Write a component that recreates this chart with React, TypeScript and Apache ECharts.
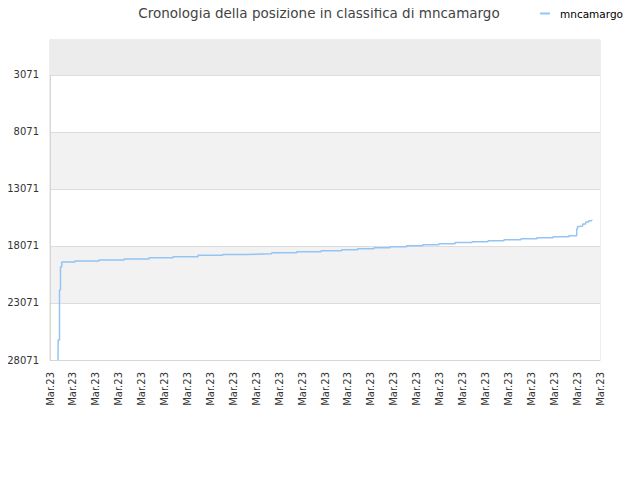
import React, { useEffect, useRef } from "react";
import * as echarts from "echarts";

const TITLE = "Cronologia della posizione in classifica di mncamargo";
const SERIES_NAME = "mncamargo";
const X_TICK_LABEL = "Mar.23";
const Y_TICKS = [3071, 8071, 13071, 18071, 23071, 28071];
const Y_MIN = 1;
const Y_MAX = 28071;
const X_MIN = 0;
const X_MAX = 24;

// time position (in axis-label units) where each rank level starts
const xPositions = [
  0.349, 0.358, 0.415, 0.458, 0.511, 1.091, 2.138, 3.229, 4.32, 5.367, 6.458,
  7.536, 8.583, 9.674, 10.765, 11.825, 12.729, 13.427, 14.138, 14.836, 15.565,
  16.263, 16.974, 17.673, 18.415, 19.113, 19.811, 20.553, 21.251, 21.949,
  22.647, 22.983, 23.018, 23.096, 23.245, 23.376, 23.507, 23.638,
];
// rank held from that position
const ranks = [
  28071, 26317, 21931, 19914, 19475, 19387, 19299, 19212, 19098, 19010, 18887,
  18808, 18747, 18659, 18571, 18484, 18396, 18308, 18220, 18133, 18045, 17957,
  17869, 17764, 17694, 17606, 17518, 17431, 17343, 17255, 17168, 16580, 16361,
  16317, 16141, 15966, 15852, 15765,
];

export default function App() {
  const ref = useRef<HTMLDivElement>(null);
  useEffect(() => {
    if (!ref.current) return;
    const chart = echarts.init(ref.current, undefined, { renderer: "svg" });
    const data = xPositions.map((x, i) => [x, ranks[i]]);
    chart.setOption({
      animation: false,
      textStyle: { fontFamily: "DejaVu Sans" },
      title: {
        text: TITLE,
        left: 314,
        textAlign: "center",
        top: 1,
        textStyle: { fontSize: 13.5, fontWeight: "normal", color: "#444", fontFamily: "DejaVu Sans" },
      },
      legend: {
        data: [SERIES_NAME],
        right: 12,
        top: 3,
        itemWidth: 10,
        itemHeight: 2,
        itemGap: 5,
        icon: "rect",
        textStyle: { fontSize: 10.5, color: "#000", fontFamily: "DejaVu Sans", padding: [0, 0, 0, 5] },
      },
      grid: {
        left: 50,
        right: 40,
        top: 40,
        bottom: 120,
        show: true,
        borderColor: "#dddddd",
        borderWidth: 1,
        backgroundColor: "transparent",
      },
      xAxis: {
        type: "value",
        min: X_MIN,
        max: X_MAX,
        interval: 1,
        axisLine: { show: true, lineStyle: { color: "#d6d6d6" } },
        axisTick: { show: false },
        splitLine: { show: false },
        axisLabel: {
          rotate: 90,
          fontSize: 10,
          color: "#333",
          margin: 12,
          formatter: () => X_TICK_LABEL,
          showMinLabel: true,
          showMaxLabel: true,
        },
      },
      yAxis: {
        type: "value",
        inverse: true,
        min: Y_MIN,
        max: Y_MAX,
        axisLine: { show: true, lineStyle: { color: "#d6d6d6" } },
        axisTick: { show: false, customValues: Y_TICKS },
        axisLabel: {
          customValues: Y_TICKS,
          fontSize: 10,
          color: "#333",
          margin: 11,
          formatter: (v: number) => String(v),
        },
        splitLine: { show: true, lineStyle: { color: "#dddddd" } },
        splitArea: {
          show: true,
          areaStyle: { color: ["#ffffff", "#f2f2f2"] },
        },
      },
      series: [
        {
          name: SERIES_NAME,
          type: "line",
          step: "end",
          data,
          showSymbol: false,
          symbol: "none",
          lineStyle: { color: "#94c4f4", width: 1.5 },
          itemStyle: { color: "#94c4f4" },
          markArea: {
            silent: true,
            itemStyle: { color: "#ececec" },
            data: [[{ yAxis: Y_MIN }, { yAxis: Y_TICKS[0] }]],
          },
        },
      ],
    });
    return () => chart.dispose();
  }, []);
  return <div ref={ref} style={{ width: 640, height: 480, margin: -8 }} />;
}
